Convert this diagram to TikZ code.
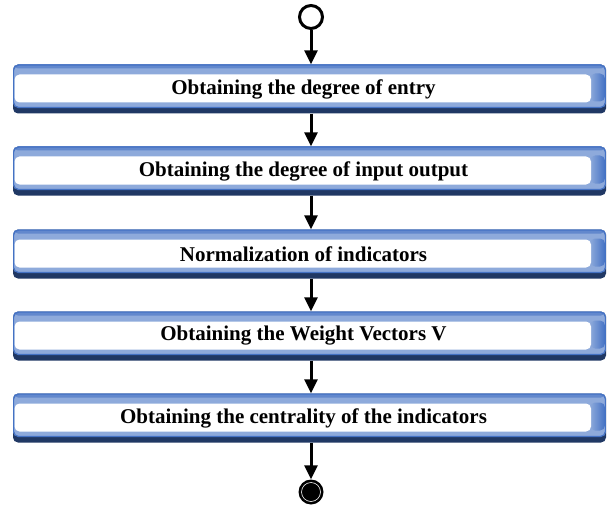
\documentclass[tikz,border=0pt]{standalone}
\usepackage{fontspec}
\setmainfont{Liberation Serif}
\usetikzlibrary{arrows.meta}
\definecolor{bandlight}{HTML}{8EAADB}
\definecolor{bandmid}{HTML}{4472C4}
\definecolor{banddark}{HTML}{203864}
\tikzset{
  stepbox/.style={rectangle, rounded corners=5pt, minimum width=593pt, minimum height=49pt,
    inner sep=0pt, fill=banddark, text=black,
    font=\fontsize{21}{24}\selectfont\bfseries,
    execute at end node={\kern12pt},
    path picture={
      \fill[bandlight, rounded corners=5pt] (path picture bounding box.north west) rectangle ([yshift=6pt]path picture bounding box.south east);
      \fill[bandmid!60!bandlight] (path picture bounding box.north west) rectangle ([yshift=-4pt]path picture bounding box.north east);
      \shade[left color=bandlight, right color=bandmid] ([xshift=-16pt,yshift=-9pt]path picture bounding box.north east) rectangle ([xshift=-1pt,yshift=12pt]path picture bounding box.south east);
      \fill[white] ([xshift=1.5pt,yshift=-10pt]path picture bounding box.north west) rectangle ([xshift=-15pt,yshift=11pt]path picture bounding box.south east);
      \draw[bandmid, line width=1.2pt, rounded corners=5pt] ([xshift=0.6pt,yshift=-0.6pt]path picture bounding box.north west) rectangle ([xshift=-0.6pt,yshift=6pt]path picture bounding box.south east);
    }},
  arr/.style={line width=3pt, -{Triangle[length=14pt,width=13pt]}},
  startnode/.style={circle, draw=black, line width=3pt, minimum size=23pt, inner sep=0pt},
  endnode/.style={circle, fill=black, minimum size=25pt, inner sep=0pt,
    path picture={\draw[white, line width=0.6pt] (path picture bounding box.center) circle (9.5pt);}}
}
\begin{document}
\begin{tikzpicture}[x=1pt,y=-1pt]
\useasboundingbox (0,0) rectangle (607,513);
\node[startnode] (s) at (311,17) {};
\node[stepbox] (b1) at (309.5,89) {Obtaining the degree of entry};
\node[stepbox] (b2) at (309.5,171) {Obtaining the degree of input output};
\node[stepbox] (b3) at (309.5,254) {Normalization of indicators};
\node[stepbox] (b4) at (309.5,336) {Obtaining the Weight Vectors V};
\node[stepbox] (b5) at (309.5,418) {Obtaining the centrality of the indicators};
\node[endnode] (e) at (311,492) {};
\draw[arr] (s.south) -- (s.south |- b1.north);
\draw[arr] (s.south |- b1.south) -- (s.south |- b2.north);
\draw[arr] (s.south |- b2.south) -- (s.south |- b3.north);
\draw[arr] (s.south |- b3.south) -- (s.south |- b4.north);
\draw[arr] (s.south |- b4.south) -- (s.south |- b5.north);
\draw[arr] (s.south |- b5.south) -- (e.north);
\end{tikzpicture}
\end{document}
